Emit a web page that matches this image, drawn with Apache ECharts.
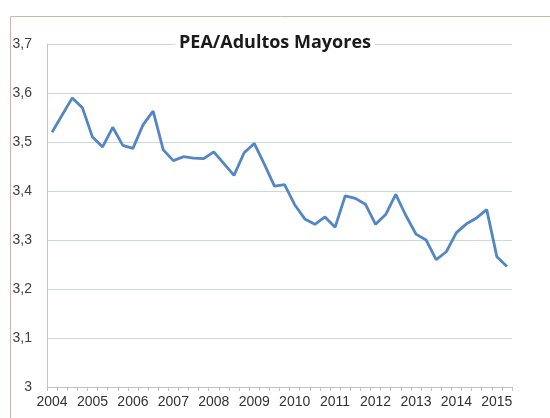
<!DOCTYPE html>
<html>
<head>
<meta charset="utf-8">
<script src="https://cdn.jsdelivr.net/npm/echarts@6/dist/echarts.min.js"></script>
<style>
html,body{margin:0;padding:0;background:#fff;}
#chart{width:550px;height:418px;}
</style>
</head>
<body>
<div id="chart"></div>
<script>
var titleText = 'PEA/Adultos Mayores';
var categories = [
  '2004 T1','2004 T2','2004 T3','2004 T4',
  '2005 T1','2005 T2','2005 T3','2005 T4',
  '2006 T1','2006 T2','2006 T3','2006 T4',
  '2007 T1','2007 T2','2007 T3','2007 T4',
  '2008 T1','2008 T2','2008 T3','2008 T4',
  '2009 T1','2009 T2','2009 T3','2009 T4',
  '2010 T1','2010 T2','2010 T3','2010 T4',
  '2011 T1','2011 T2','2011 T3','2011 T4',
  '2012 T1','2012 T2','2012 T3','2012 T4',
  '2013 T1','2013 T2','2013 T3','2013 T4',
  '2014 T1','2014 T2','2014 T3','2014 T4',
  '2015 T1','2015 T2'
];
var values = [
  3.520, 3.555, 3.590, 3.570,
  3.510, 3.490, 3.530, 3.493,
  3.487, 3.535, 3.563, 3.484,
  3.462, 3.470, 3.467, 3.466,
  3.480, 3.456, 3.432, 3.478,
  3.497, 3.455, 3.410, 3.413,
  3.372, 3.343, 3.332, 3.347,
  3.326, 3.390, 3.385, 3.373,
  3.332, 3.352, 3.393, 3.350,
  3.312, 3.300, 3.260, 3.276,
  3.315, 3.333, 3.345, 3.362,
  3.266, 3.246
];
var yMin = 3.0, yMax = 3.7, yStep = 0.1;

var chart = echarts.init(document.getElementById('chart'), null, {renderer:'canvas'});
chart.setOption({
  animation: false,
  backgroundColor: '#ffffff',
  graphic: [{
    type: 'rect', left: 8, top: 14, z: 0,
    shape: {width: 560, height: 420},
    style: {fill: 'none', stroke: '#d2b4a6', lineWidth: 1}
  }],
  title: {
    text: titleText,
    left: 'center',
    top: 33,
    padding: [1, 4],
    backgroundColor: '#ffffff',
    textStyle: {fontFamily: 'Open Sans', fontWeight: 'bold', fontSize: 18, color: '#1a1a1a'}
  },
  grid: {left: 47, right: 38, top: 44, bottom: 31},
  xAxis: {
    type: 'category',
    data: categories,
    boundaryGap: true,
    axisLine: {lineStyle: {color: '#b9c4cc', width: 1}},
    axisTick: {show: true, interval: 0, length: 4, lineStyle: {color: '#b9c4cc'}},
    axisLabel: {
      interval: 3,
      margin: 8,
      fontFamily: 'Liberation Sans',
      fontSize: 14,
      color: '#333333',
      formatter: function (v) { return v.slice(0, 4); }
    },
    splitLine: {show: false}
  },
  yAxis: {
    type: 'value',
    min: yMin, max: yMax, interval: yStep,
    axisLine: {show: true, lineStyle: {color: '#cfc2bc', width: 1}},
    axisTick: {show: false},
    axisLabel: {
      margin: 15,
      fontFamily: 'Liberation Sans',
      fontSize: 14,
      color: '#404040',
      formatter: function (v) { return (Math.round(v * 10) / 10).toString().replace('.', ','); }
    },
    splitLine: {lineStyle: {color: '#c9d9e2', width: 1}}
  },
  series: [{
    type: 'line',
    data: values,
    symbol: 'none',
    lineStyle: {color: '#5286c4', width: 2.8},
    z: 3
  }]
});
</script>
</body>
</html>
